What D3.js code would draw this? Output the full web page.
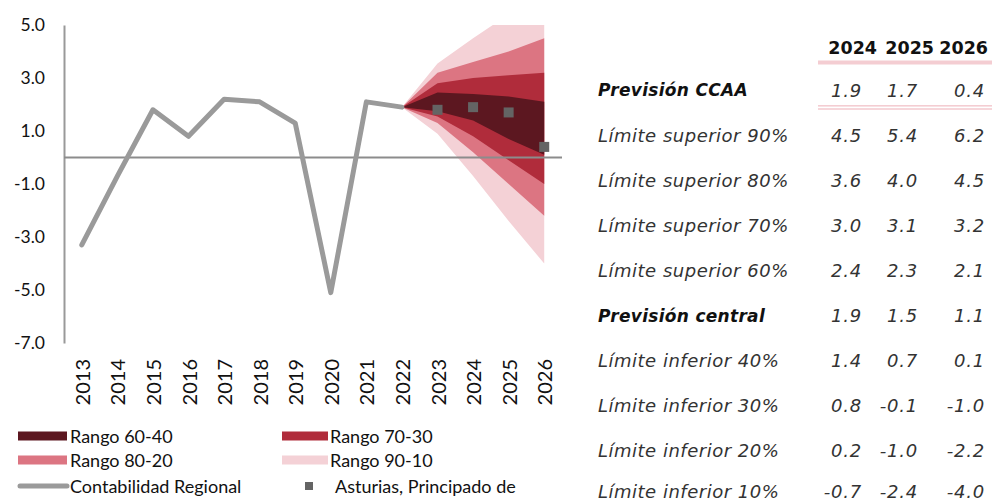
<!DOCTYPE html>
<html><head><meta charset="utf-8">
<script src="https://cdn.jsdelivr.net/npm/d3@7/dist/d3.min.js"></script>
<style>body{margin:0;background:#fff}svg{display:block}</style>
</head><body><svg id="c" width="992" height="502"></svg>
<script>
// ---- Data ----
const years = ["2013","2014","2015","2016","2017","2018","2019","2020","2021","2022","2023","2024","2025","2026"];
const histYears = ["2013","2014","2015","2016","2017","2018","2019","2020","2021","2022"];
const histValues = [-3.3, -0.7, 1.8, 0.8, 2.2, 2.1, 1.3, -5.1, 2.1, 1.9];
const fanYears = ["2022","2023","2024","2025","2026"];
const upper90 = [1.9, 3.55, 4.5, 5.4, 6.2];
const upper80 = [1.9, 3.2, 3.6, 4.0, 4.5];
const upper70 = [1.9, 2.8, 3.0, 3.1, 3.2];
const upper60 = [1.9, 2.45, 2.4, 2.3, 2.1];
const lower40 = [1.9, 1.75, 1.4, 0.7, 0.1];
const lower30 = [1.9, 1.55, 0.8, -0.1, -1.0];
const lower20 = [1.9, 1.3, 0.2, -1.0, -2.2];
const lower10 = [1.9, 0.9, -0.7, -2.4, -4.0];
const pointYears = ["2023","2024","2025","2026"];
const pointValues = [1.8, 1.9, 1.7, 0.4];
const yTicks = [-7, -5, -3, -1, 1, 3, 5];
const tableYears = ["2024","2025","2026"];
const tableRows = ["Previsión CCAA","Límite superior 90%","Límite superior 80%","Límite superior 70%","Límite superior 60%","Previsión central","Límite inferior 40%","Límite inferior 30%","Límite inferior 20%","Límite inferior 10%"];
const tableValues = [
  ["1.9","1.7","0.4"],
  ["4.5","5.4","6.2"],
  ["3.6","4.0","4.5"],
  ["3.0","3.1","3.2"],
  ["2.4","2.3","2.1"],
  ["1.9","1.5","1.1"],
  ["1.4","0.7","0.1"],
  ["0.8","-0.1","-1.0"],
  ["0.2","-1.0","-2.2"],
  ["-0.7","-2.4","-4.0"]
];
const boldRows = ["Previsión CCAA","Previsión central"];
const legendItems = ["Rango 60-40","Rango 70-30","Rango 80-20","Rango 90-10","Contabilidad Regional","Asturias, Principado de"];

// ---- Styles ----
const C60 = "#5c1720", C70 = "#b02c3b", C80 = "#dc7582", C90 = "#f4d1d6";
const LINE = "#9a9a9a", PT = "#646464";
const chartFont = "Lato, 'Open Sans', sans-serif";
const tableFont = "'DejaVu Sans', Verdana, sans-serif";

const svg = d3.select("#c");
const L = 64, R = 562, T = 25, B = 343;
const x = d3.scaleBand().domain(years).range([L, R]).padding(0);
const cx = yr => x(yr) + x.bandwidth() / 2;
const y = d3.scaleLinear().domain([-7, 5]).range([B, T]);

svg.append("defs").append("clipPath").attr("id","clip")
  .append("rect").attr("x", L).attr("y", T).attr("width", R - L).attr("height", B - T);

// fan
const bands = [[lower10, upper90, C90],[lower20, upper80, C80],[lower30, upper70, C70],[lower40, upper60, C60]];
const fanG = svg.append("g").attr("clip-path","url(#clip)");
bands.forEach(([lo, hi, col]) => {
  const data = fanYears.map((yr, i) => ({yr, lo: lo[i], hi: hi[i]}));
  fanG.append("path").datum(data)
    .attr("fill", col)
    .attr("d", d3.area().x(d => cx(d.yr)).y0(d => y(d.lo)).y1(d => y(d.hi)));
});

// axes
const fmt = d => d.toFixed(1);
const yAxis = d3.axisLeft(y).tickValues(yTicks).tickSize(0).tickPadding(19).tickFormat(fmt);
const gy = svg.append("g").attr("transform", `translate(${L},0)`).call(yAxis);
gy.select(".domain").attr("stroke", "#999").attr("stroke-width", 2);
gy.selectAll("text").attr("font-family", chartFont).attr("font-size", 17.5).attr("fill", "#111");

// zero line
svg.append("line").attr("x1", L).attr("x2", R).attr("y1", y(0)).attr("y2", y(0))
  .attr("stroke", "#8c8c8c").attr("stroke-width", 2);

// x labels
const xAxis = d3.axisBottom(x).tickSize(0);
const gx = svg.append("g").attr("transform", `translate(0,${y(0)})`).call(xAxis);
gx.select(".domain").remove();
gx.selectAll("text")
  .attr("font-family", chartFont).attr("font-size", 20).attr("fill", "#111")
  .attr("text-anchor", "end").attr("dy", null)
  .attr("transform", `translate(0,${359 - y(0)}) rotate(-90)`)
  .attr("x", 0).attr("y", 0).attr("dominant-baseline", "central");

// historical line
svg.append("path").datum(histYears.map((yr, i) => ({yr, v: histValues[i]})))
  .attr("fill", "none").attr("stroke", LINE).attr("stroke-width", 5)
  .attr("stroke-linejoin", "round").attr("stroke-linecap", "round")
  .attr("d", d3.line().x(d => cx(d.yr)).y(d => y(d.v)));

// points
svg.append("g").selectAll("rect").data(pointYears.map((yr, i) => ({yr, v: pointValues[i]})))
  .join("rect").attr("x", d => cx(d.yr) - 5).attr("y", d => y(d.v) - 5)
  .attr("width", 10).attr("height", 10).attr("fill", PT);

// legend
const lg = svg.append("g").attr("font-family", chartFont).attr("font-size", 18).attr("fill", "#111");
const legendPos = [
  {x: 18, sx: 70, y: 436, w: 49, type: "rect", col: C60},
  {x: 282, sx: 330, y: 436, w: 46, type: "rect", col: C70},
  {x: 18, sx: 70, y: 460, w: 49, type: "rect", col: C80},
  {x: 282, sx: 330, y: 460, w: 46, type: "rect", col: C90},
  {x: 18, sx: 70, y: 486, w: 49, type: "line", col: LINE},
  {x: 305, sx: 335, y: 486, w: 8, type: "pt", col: PT}
];
legendItems.forEach((name, i) => {
  const p = legendPos[i];
  if (p.type === "rect") lg.append("rect").attr("x", p.x).attr("y", p.y - 4.5).attr("width", p.w).attr("height", 9).attr("fill", p.col);
  else if (p.type === "line") lg.append("line").attr("x1", p.x + 2).attr("x2", p.x + p.w).attr("y1", p.y).attr("y2", p.y).attr("stroke", p.col).attr("stroke-width", 5).attr("stroke-linecap", "round");
  else lg.append("rect").attr("x", p.x).attr("y", p.y - 4).attr("width", 8).attr("height", 8).attr("fill", p.col);
  lg.append("text").attr("x", p.sx).attr("y", p.y).attr("dominant-baseline", "central").text(name);
});

// table
const tg = svg.append("g").attr("font-family", tableFont);
const headerX = [877, 934, 988];
const colX = [862, 918, 985];
tableYears.forEach((yr, j) => {
  tg.append("text").attr("x", headerX[j]).attr("y", 54).attr("text-anchor", "end")
    .attr("font-weight", "bold").attr("font-size", 17.5).attr("fill", "#111").text(yr);
});
tg.append("rect").attr("x", 818).attr("y", 60.5).attr("width", 174).attr("height", 4).attr("fill", "#f4cdd2");
tg.append("rect").attr("x", 818).attr("y", 105).attr("width", 174).attr("height", 1.6).attr("fill", "#f4cdd2");
tg.append("rect").attr("x", 818).attr("y", 108.2).attr("width", 174).attr("height", 1.6).attr("fill", "#f4cdd2");
const rowY = i => (i < tableRows.length - 1 ? 90 + i * 45.1 : 491);
tableRows.forEach((name, i) => {
  const ry = rowY(i);
  const bold = boldRows.includes(name);
  tg.append("text").attr("x", 598).attr("y", ry).attr("dominant-baseline", "central")
    .attr("font-style", "italic").attr("font-weight", bold ? "bold" : "normal")
    .attr("font-size", bold ? 17 : 18).attr("letter-spacing", bold ? 0.3 : 0.5)
    .attr("fill", bold ? "#111" : "#333").text(name);
  tableValues[i].forEach((v, j) => {
    tg.append("text").attr("x", colX[j]).attr("y", ry).attr("dominant-baseline", "central")
      .attr("text-anchor", "end").attr("font-style", "italic").attr("font-size", 18)
      .attr("letter-spacing", 0.8).attr("fill", "#333").text(v);
  });
});
</script></body></html>
